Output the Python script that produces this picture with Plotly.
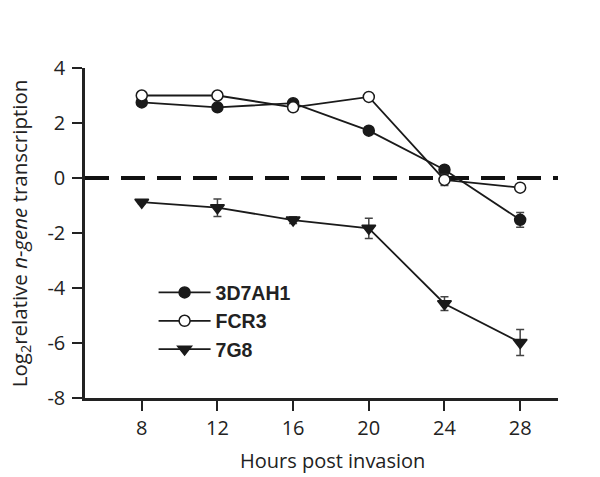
import plotly.graph_objects as go

hours = [8, 12, 16, 20, 24, 28]
y_3d7 = [2.75, 2.57, 2.72, 1.72, 0.30, -1.52]
e_3d7 = [0.08, 0.1, 0.12, 0.12, 0.15, 0.27]
y_fcr3 = [3.0, 3.0, 2.57, 2.95, -0.07, -0.35]
e_fcr3 = [0.05, 0.05, 0.12, 0.05, 0.2, 0.08]
y_7g8 = [-0.88, -1.08, -1.53, -1.83, -4.57, -5.98]
e_7g8 = [0.06, 0.32, 0.12, 0.37, 0.25, 0.47]
names = ["3D7AH1", "FCR3", "7G8"]
y_ticks = [-8, -6, -4, -2, 0, 2, 4]
y_ticktext = ["-8", "-6", "-4", "-2", "0", "2", "4"]

LINE = "#1a1a1a"
fig = go.Figure()

def add(name, y, e, symbol, fill, size):
    fig.add_trace(go.Scatter(
        x=hours, y=y, name=name, mode="lines+markers",
        line=dict(color=LINE, width=1.8),
        marker=dict(symbol=symbol, size=size, color=fill,
                    line=dict(color=LINE, width=1.5)),
        error_y=dict(type="data", array=e, visible=True, color="#444",
                     thickness=1.5, width=4),
    ))

fig.add_shape(type="line", xref="paper", yref="y", x0=0, x1=1, y0=0, y1=0,
              line=dict(color="#111", width=4, dash="24px,12px"), layer="below")

add(names[0], y_3d7, e_3d7, "circle", LINE, 11)
add(names[1], y_fcr3, e_fcr3, "circle", "white", 11)
add(names[2], y_7g8, e_7g8, "triangle-down", LINE, 12)

fig.update_layout(
    width=600, height=477,
    margin=dict(l=85, r=42, t=68, b=79),
    paper_bgcolor="white", plot_bgcolor="white",
    font=dict(family="Open Sans", size=20, color="#222"),
    showlegend=True,
    legend=dict(x=0.145, y=0.378, xanchor="left", yanchor="top",
                font=dict(family="Liberation Sans", size=19.5, color="#222", weight="bold"),
                bgcolor="rgba(0,0,0,0)", itemwidth=52, tracegroupgap=0),
    xaxis=dict(range=[5, 30], tickvals=hours, showgrid=False, zeroline=False,
               showline=True, linecolor="#222", linewidth=2.5,
               ticks="outside", ticklen=10, tickwidth=2, tickcolor="#222",
               tickfont=dict(size=20)),
    yaxis=dict(range=[-8, 4], tickvals=y_ticks, ticktext=y_ticktext,
               showgrid=False, zeroline=False,
               showline=True, linecolor="#222", linewidth=2.5,
               ticks="outside", ticklen=10, tickwidth=2, tickcolor="#222",
               tickfont=dict(size=20), ticklabelstandoff=3),
    annotations=[
        dict(text="Hours post invasion", xref="paper", yref="paper",
             x=0.524, y=-0.19, xanchor="center", yanchor="middle",
             showarrow=False, font=dict(size=20, color="#222")),
        dict(text="Log<sub>2</sub>relative <i>n-gene</i> transcription",
             xref="paper", yref="paper", x=-0.137, y=0.5, textangle=-90,
             xanchor="center", yanchor="middle", showarrow=False,
             font=dict(size=20.5, color="#222")),
    ],
)

fig.write_html("out.html", config={"displayModeBar": False},
               post_script="document.body.style.margin='0';")
